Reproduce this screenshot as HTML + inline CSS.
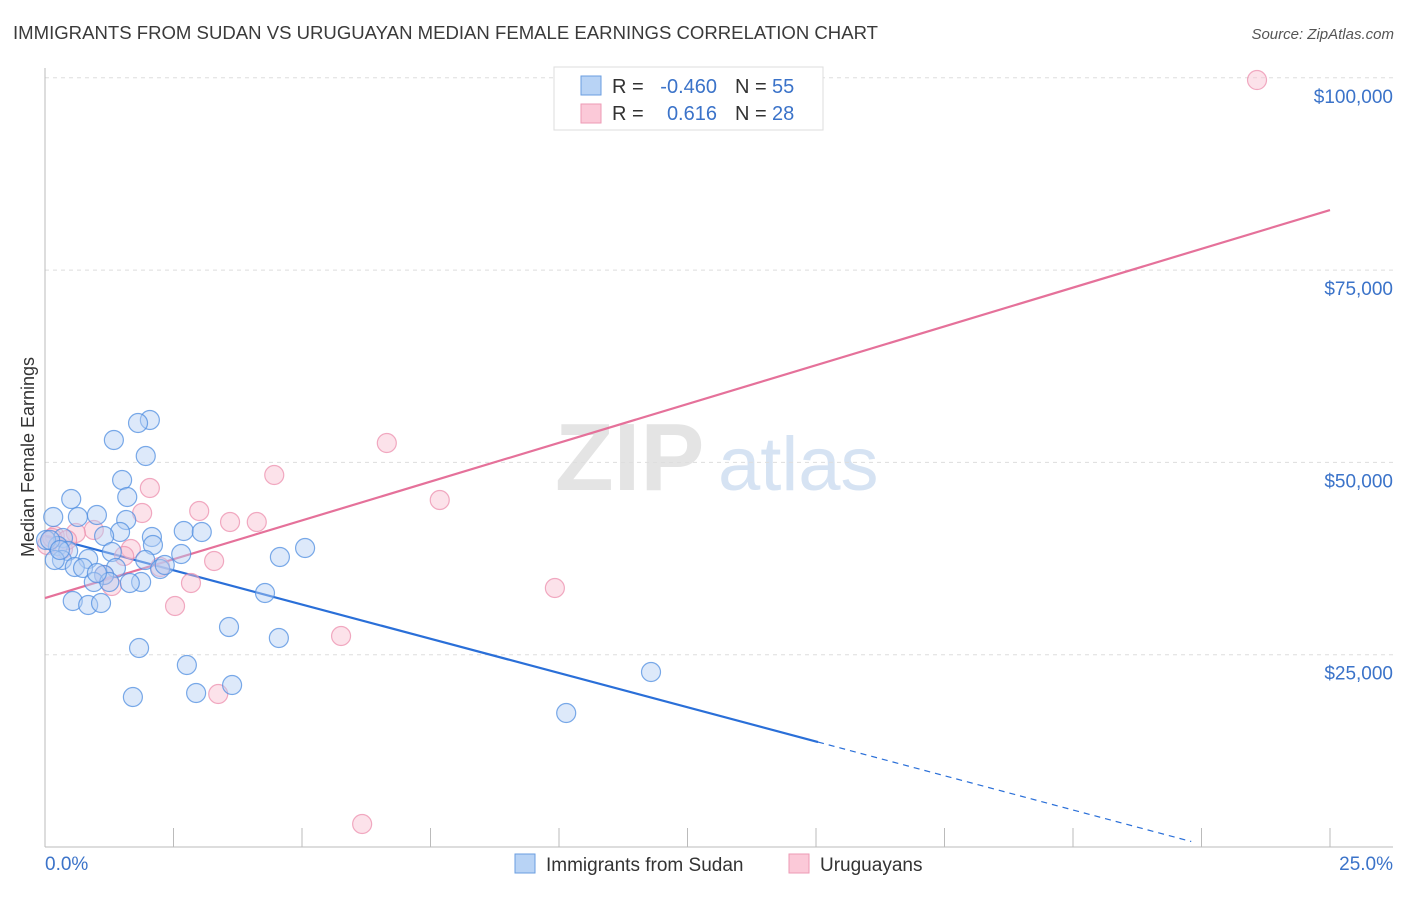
<!DOCTYPE html>
<html><head><meta charset="utf-8"><style>
body{margin:0;background:#fff;font-family:"Liberation Sans",sans-serif}
svg text{font-family:"Liberation Sans",sans-serif}
</style></head><body>
<svg id="chart" width="1406" height="892" xmlns="http://www.w3.org/2000/svg">
<text x="13" y="39" font-size="18" fill="#3a3a3a" textLength="865" lengthAdjust="spacingAndGlyphs">IMMIGRANTS FROM SUDAN VS URUGUAYAN MEDIAN FEMALE EARNINGS CORRELATION CHART</text>
<text x="1394" y="39" font-size="15" fill="#555" text-anchor="end" font-style="italic">Source: ZipAtlas.com</text>
<g>
<text x="555" y="490" font-size="96" fill="#e4e4e4" font-family="Liberation Serif" font-weight="bold">ZIP</text>
<text x="718" y="490" font-size="76" fill="#d6e3f3">atlas</text>
</g>
<g id="grid"></g><g id="axes"></g><g id="lines"></g><g id="pts"></g>
<text transform="translate(34,457) rotate(-90)" font-size="18" fill="#333" text-anchor="middle">Median Female Earnings</text>
<text x="45" y="870" font-size="19" fill="#3b73c9">0.0%</text>
<text x="1393" y="870" font-size="19" fill="#3b73c9" text-anchor="end">25.0%</text>
<g>
<rect x="554" y="67" width="269" height="63" fill="#fff" stroke="#ddd"/>
<rect x="581" y="76" width="20" height="19" fill="#b8d3f5" stroke="#6a9ee0"/>
<rect x="581" y="104" width="20" height="19" fill="#fbc9d8" stroke="#ee9ab5"/>
<text x="612" y="93" font-size="20" fill="#333">R =</text>
<text x="717" y="93" font-size="20" fill="#3b73c9" text-anchor="end">-0.460</text>
<text x="735" y="93" font-size="20" fill="#333">N =</text>
<text x="772" y="93" font-size="20" fill="#3b73c9">55</text>
<text x="612" y="120" font-size="20" fill="#333">R =</text>
<text x="717" y="120" font-size="20" fill="#3b73c9" text-anchor="end">0.616</text>
<text x="735" y="120" font-size="20" fill="#333">N =</text>
<text x="772" y="120" font-size="20" fill="#3b73c9">28</text>
</g>
<g>
<rect x="515" y="854" width="20" height="19" fill="#b8d3f5" stroke="#6a9ee0"/>
<text x="546" y="871" font-size="19" fill="#333">Immigrants from Sudan</text>
<rect x="789" y="854" width="20" height="19" fill="#fbc9d8" stroke="#ee9ab5"/>
<text x="820" y="871" font-size="19" fill="#333">Uruguayans</text>
</g>
</svg>
<script>
const yTicks=[25000,50000,75000,100000];
const yTickLabels=["$25,000","$50,000","$75,000","$100,000"];
const xTicks=[0,2.5,5,7.5,10,12.5,15,17.5,20,22.5,25];
const sudanX=[2.04,1.81,1.34,1.96,1.50,1.60,0.51,1.01,1.58,0.64,0.16,2.08,2.70,3.05,1.46,1.15,0.35,0.25,0.45,5.06,4.57,2.10,2.65,1.30,0.84,1.95,0.33,0.19,0.58,0.74,1.38,2.24,1.15,0.95,1.87,1.65,1.25,0.54,0.84,1.09,4.28,3.58,4.55,1.83,2.76,2.94,3.64,1.71,11.79,10.14,0.02,0.10,0.29,2.33,1.01];
const sudanY=[55510,55120,52910,50830,47710,45500,45240,43160,42510,42900,42900,40300,41080,40950,40950,40430,40170,39130,38480,38870,37700,39260,38090,38350,37440,37310,37310,37310,36400,36270,36270,36140,35360,34450,34450,34320,34450,31980,31460,31720,33020,28600,27170,25870,23660,20020,21060,19500,22750,17420,39910,39910,38610,36660,35620];
const uruX=[23.58,6.65,4.46,7.68,2.04,3.00,1.89,3.60,4.12,0.95,0.60,0.19,0.04,0.35,1.67,1.54,3.29,2.24,1.15,2.84,1.30,9.92,2.53,5.76,3.37,6.17,0.14,0.43];
const uruY=[99710,52520,48360,45110,46670,43680,43420,42250,42250,41210,40820,40430,39260,38740,38740,37830,37180,36400,35360,34320,33930,33670,31330,27430,19890,2990,40170,39910];
const sudanTrend=[40430,-1781];
const uruTrend=[32370,2017.6];
const X=v=>45+v/2.5*128.5, Y=v=>847-v/25000*192.3;
const NS="http://www.w3.org/2000/svg";
function mk(t,a,p){const e=document.createElementNS(NS,t);for(const k in a)e.setAttribute(k,a[k]);p.appendChild(e);return e;}
const grid=document.getElementById('grid'),axes=document.getElementById('axes'),lines=document.getElementById('lines'),pts=document.getElementById('pts');
yTicks.forEach((t,i)=>{
const l=mk('line',{x1:45,x2:1393,y1:Y(t),y2:Y(t),stroke:'#ddd','stroke-dasharray':'4,4'},grid);


const tx=mk('text',{x:1393,y:Y(t)+25,'font-size':19,fill:'#3b73c9','text-anchor':'end'},grid);
tx.textContent=yTickLabels[i];


});
const ax=mk('line',{x1:45,x2:45,y1:68,y2:847,stroke:'#bbb'},axes);


const bx=mk('line',{x1:45,x2:1393,y1:847,y2:847,stroke:'#bbb'},axes);


xTicks.forEach(t=>{
const l=mk('line',{x1:X(t),x2:X(t),y1:828,y2:847,stroke:'#bbb'},axes);


});
function pt(x,y,f,s,n){
const c=mk('circle',{cx:X(x),cy:Y(y),r:9.5,fill:f,'fill-opacity':0.45,stroke:s,'stroke-opacity':0.75,'stroke-width':1.2},pts);


}
uruX.forEach((x,i)=>pt(x,uruY[i],'#f9bfd1','#ec8fae','uruguayans-point'));
sudanX.forEach((x,i)=>pt(x,sudanY[i],'#b3cff3','#4f8ee0','sudan-point'));
const sEnd=15.04, sDash=22.3;
const s1=mk('line',{x1:X(0),y1:Y(sudanTrend[0]),x2:X(sEnd),y2:Y(sudanTrend[0]+sudanTrend[1]*sEnd),stroke:'#2a6fd8','stroke-width':2.2},lines);


const s2=mk('line',{x1:X(sEnd),y1:Y(sudanTrend[0]+sudanTrend[1]*sEnd),x2:X(sDash),y2:Y(sudanTrend[0]+sudanTrend[1]*sDash),stroke:'#2a6fd8','stroke-width':1.2,'stroke-dasharray':'6,5'},lines);


const u1=mk('line',{x1:X(0),y1:Y(uruTrend[0]),x2:X(25),y2:Y(uruTrend[0]+uruTrend[1]*25),stroke:'#e5719a','stroke-width':2.2},lines);


</script>
</body></html>
